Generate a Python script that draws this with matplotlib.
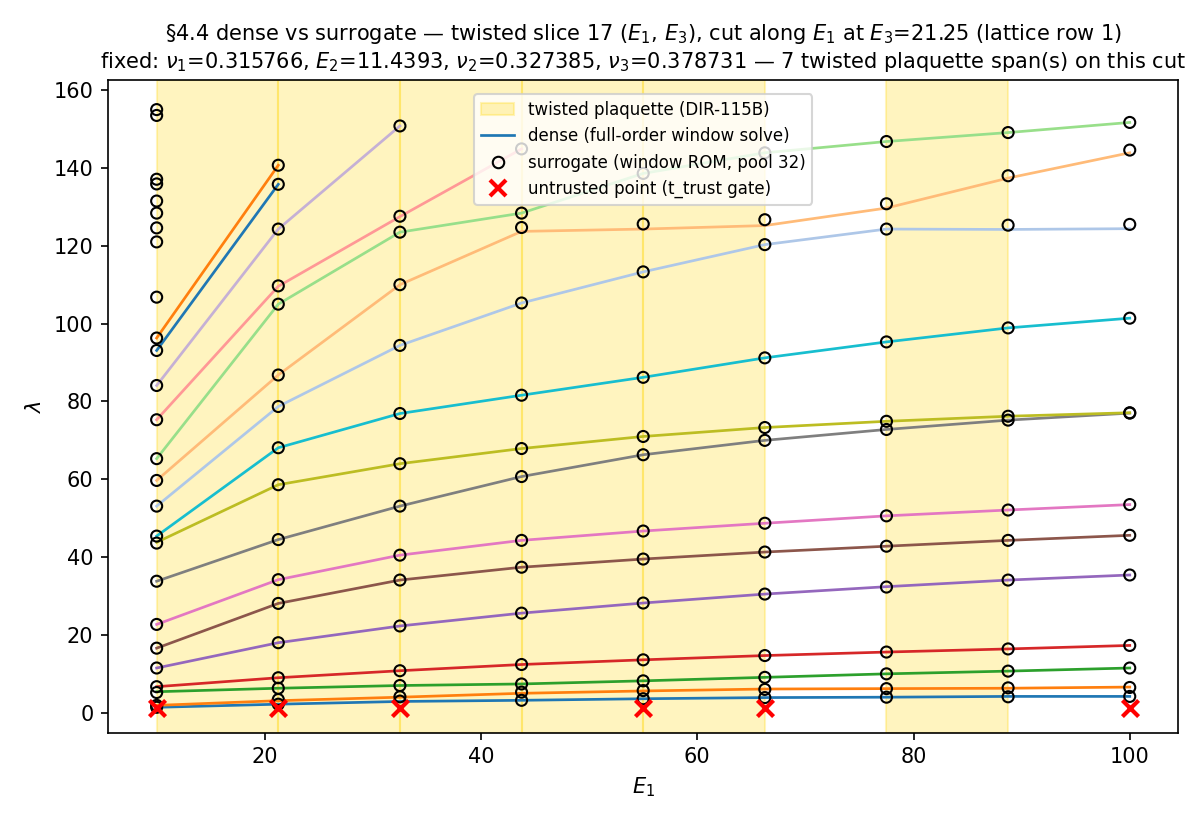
import numpy as np
import matplotlib
matplotlib.use("Agg")
import matplotlib.pyplot as plt
from matplotlib.lines import Line2D
from matplotlib.patches import Patch

# cut positions along E1
E1 = [10.0, 21.25, 32.5, 43.75, 55.0, 66.25, 77.5, 88.75, 100.0]

# twisted plaquette spans on this cut
span_lo = [10.0, 21.25, 32.5, 43.75, 55.0, 77.5]
span_hi = [21.25, 32.5, 43.75, 55.0, 66.25, 88.75]

# dense eigenvalue branches (None = branch left the window)
mode01 = [1.4, 2.2, 2.9, 3.2, 3.6, 3.9, 4.0, 4.2, 4.2]
mode02 = [1.9, 3.1, 4.0, 5.0, 5.6, 6.1, 6.2, 6.3, 6.6]
mode03 = [5.4, 6.3, 7.0, 7.4, 8.2, 9.1, 10.0, 10.7, 11.5]
mode04 = [6.7, 9.0, 10.8, 12.4, 13.6, 14.7, 15.6, 16.4, 17.3]
mode05 = [11.5, 18.0, 22.3, 25.6, 28.2, 30.5, 32.4, 34.1, 35.4]
mode06 = [16.6, 28.1, 34.1, 37.4, 39.5, 41.3, 42.8, 44.3, 45.6]
mode07 = [22.7, 34.2, 40.5, 44.3, 46.7, 48.7, 50.6, 52.1, 53.5]
mode08 = [33.8, 44.5, 53.1, 60.7, 66.3, 70.0, 72.8, 75.2, 77.0]
mode09 = [43.8, 58.6, 64.0, 67.9, 71.0, 73.3, 74.9, 76.2, 77.1]
mode10 = [45.4, 68.1, 76.9, 81.6, 86.2, 91.2, 95.3, 98.9, 101.4]
mode11 = [53.1, 78.7, 94.4, 105.3, 113.3, 120.3, 124.3, 124.2, 124.4]
mode12 = [59.7, 86.8, 110.0, 123.7, 124.3, 125.2, 129.7, 137.4, 143.9]
mode13 = [65.3, 105.0, 123.5, 128.4, 138.6, 143.9, 146.8, 149.1, 151.7]
mode14 = [75.3, 109.6, 127.5, 144.9, None, None, None, None, None]
mode15 = [84.1, 124.3, 150.8, None, None, None, None, None, None]
mode16 = [93.1, 135.8, None, None, None, None, None, None, None]
mode17 = [96.3, 140.7, None, None, None, None, None, None, None]

mode_colors = ["#1f77b4", "#ff7f0e", "#2ca02c", "#d62728", "#9467bd",
               "#8c564b", "#e377c2", "#7f7f7f", "#bcbd22", "#17becf",
               "#aec7e8", "#ffbb78", "#98df8a", "#ff9896", "#c5b0d5",
               "#1f77b4", "#ff7f0e"]

# surrogate (window ROM) eigenvalues at each cut position
surr_10 = [1.4, 1.9, 5.2, 6.7, 11.5, 16.6, 22.7, 33.8, 43.6, 45.4, 53.1,
           59.7, 65.3, 75.3, 84.1, 93.1, 96.3, 106.8, 121.0, 124.6, 128.4,
           131.5, 135.9, 137.1, 153.5, 155.0]
surr_21 = [2.2, 3.4, 6.3, 9.0, 18.0, 28.1, 34.2, 44.5, 58.6, 68.1, 78.7,
           86.8, 105.0, 109.7, 124.3, 135.8, 140.7]
surr_32 = [3.0, 4.1, 7.0, 10.8, 22.3, 34.1, 40.5, 53.1, 64.0, 76.9, 94.4,
           110.0, 123.5, 127.6, 150.8]
surr_43 = [3.2, 5.3, 7.4, 12.4, 25.6, 37.4, 44.3, 60.7, 67.9, 81.6, 105.3,
           124.7, 128.4, 144.9]
surr_55 = [3.6, 5.7, 8.2, 13.6, 28.2, 39.5, 46.7, 66.3, 71.0, 86.2, 113.3,
           125.6, 138.6]
surr_66 = [3.9, 6.0, 9.1, 14.7, 30.5, 41.3, 48.7, 70.0, 73.3, 91.2, 120.3,
           126.7, 143.9]
surr_77 = [4.0, 6.2, 10.0, 15.6, 32.3, 42.8, 50.6, 72.8, 74.9, 95.3, 124.3,
           130.8, 146.8]
surr_88 = [4.1, 6.4, 10.7, 16.4, 34.1, 44.3, 52.1, 75.2, 76.2, 98.9, 125.3,
           138.0, 149.1]
surr_100 = [4.2, 6.5, 11.5, 17.3, 35.4, 45.6, 53.5, 77.0, 77.1, 101.4, 125.5,
            144.6, 151.7]

# points rejected by the t_trust gate
untrusted_x = [10.0, 21.25, 32.5, 55.0, 66.25, 100.0]
untrusted_y = [1.2, 1.2, 1.2, 1.2, 1.2, 1.2]

TITLE = ("§4.4 dense vs surrogate — twisted slice 17 ($E_1$, $E_3$), "
         "cut along $E_1$ at $E_3$=21.25 (lattice row 1)\n"
         "fixed: $\\nu_1$=0.315766, $E_2$=11.4393, $\\nu_2$=0.327385, "
         "$\\nu_3$=0.378731 — 7 twisted plaquette span(s) on this cut")


def draw():
    fig, ax = plt.subplots(figsize=(8, 5.5), dpi=150)
    fig.subplots_adjust(left=0.09, right=0.982, top=0.903, bottom=0.112)

    for lo, hi in zip(span_lo, span_hi):
        ax.axvspan(lo, hi, color="gold", alpha=0.25, zorder=0)

    modes = [mode01, mode02, mode03, mode04, mode05, mode06, mode07, mode08,
             mode09, mode10, mode11, mode12, mode13, mode14, mode15, mode16,
             mode17]
    for vals, col in zip(modes, mode_colors):
        y = np.array([np.nan if v is None else v for v in vals])
        ax.plot(E1, y, color=col, lw=1.3, zorder=2)

    surr = [surr_10, surr_21, surr_32, surr_43, surr_55, surr_66, surr_77,
            surr_88, surr_100]
    for x, vals in zip(E1, surr):
        ax.scatter([x] * len(vals), vals, s=28, facecolors="none",
                   edgecolors="black", linewidths=1.0, zorder=3)

    ax.scatter(untrusted_x, untrusted_y, marker="x", s=60, color="red",
               linewidths=2, zorder=4)

    ax.set_xlim(5.5, 104.5)
    ax.set_ylim(-5.1, 162.6)
    ax.set_xlabel("$E_1$")
    ax.set_ylabel("$\\lambda$")
    ax.set_title(TITLE, fontsize=10)

    handles = [
        Patch(facecolor="gold", edgecolor="gold", alpha=0.25,
              label="twisted plaquette (DIR-115B)"),
        Line2D([], [], color="#1f77b4", lw=1.3,
               label="dense (full-order window solve)"),
        Line2D([], [], ls="none", marker="o", mfc="none", mec="black",
               ms=5.5, label="surrogate (window ROM, pool 32)"),
        Line2D([], [], ls="none", marker="x", color="red", mew=2, ms=8,
               label="untrusted point (t_trust gate)"),
    ]
    ax.legend(handles=handles, loc="upper center", fontsize=8,
              borderaxespad=0.85)

    fig.savefig("out.png", dpi=150)


if __name__ == "__main__":
    draw()
